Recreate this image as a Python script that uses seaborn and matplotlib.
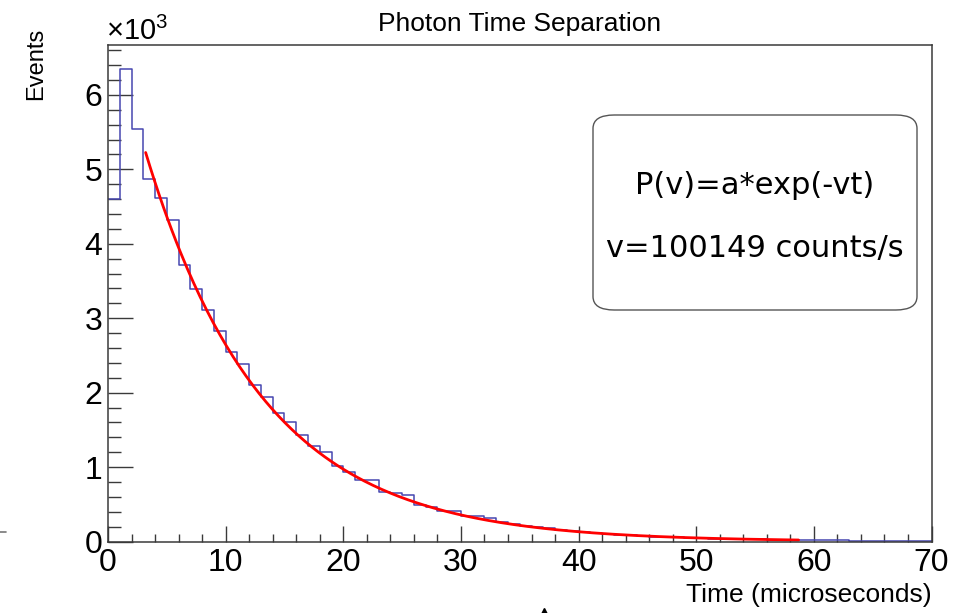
import numpy as np
import pandas as pd
import seaborn as sns
import matplotlib.pyplot as plt
from matplotlib.patches import FancyBboxPatch
from matplotlib.ticker import MultipleLocator, FuncFormatter

# histogram: 1 microsecond bins from 0 to 70, counts
bin_edges = list(range(0, 71))
counts = [4600, 6350, 5540, 4870, 4610, 4320, 3720, 3395, 3110, 2830,
          2550, 2380, 2105, 1935, 1725, 1600, 1425, 1285, 1205, 1015,
          930, 830, 825, 670, 650, 620, 490, 470, 410, 410,
          345, 345, 320, 265, 235, 210, 200, 175, 160, 140,
          130, 118, 95, 88, 87, 74, 66, 62, 55, 48,
          44, 40, 36, 33, 30, 27, 24, 20, 19, 17,
          16, 15, 14, 13, 8, 7, 6, 6, 5, 5]

# exponential fit P = a*exp(-v t), t in microseconds
fit_a = 7200
fit_v = 100149  # counts/s
fit_range = [3.2, 58.7]

box_lines = ['P(v)=a*exp(-vt)', 'v=100149 counts/s']

df = pd.DataFrame({'time': np.array(bin_edges[:-1]) + 0.5, 'events': counts})
t_fit = np.linspace(fit_range[0], fit_range[1], 300)
fit_df = pd.DataFrame({'time': t_fit, 'events': fit_a * np.exp(-fit_v * 1e-6 * t_fit)})

sns.set_style('white')
plt.rcParams['font.family'] = ['Liberation Sans', 'DejaVu Sans']
plt.rcParams['mathtext.fontset'] = 'custom'
plt.rcParams['mathtext.rm'] = 'Liberation Sans'
plt.rcParams['text.color'] = 'black'
plt.rcParams['xtick.color'] = 'black'
plt.rcParams['ytick.color'] = 'black'

W, H = 967, 613
fig = plt.figure(figsize=(W / 100, H / 100), dpi=100)
ax = fig.add_axes([108 / W, 1 - 541.5 / H, (931.5 - 108) / W, (541.5 - 45) / H])

sns.histplot(data=df, x='time', weights='events', bins=bin_edges,
             element='step', fill=False, color='#4646b0', linewidth=1.1, ax=ax)
sns.lineplot(data=fit_df, x='time', y='events', color='#ff0000', linewidth=2, ax=ax)

ax.set_xlim(0, 70)
ax.set_ylim(0, 6670)
ax.set_xlabel('')
ax.set_ylabel('')

frame_col = '#3a3a3a'
for s in ax.spines.values():
    s.set_color(frame_col)
    s.set_linewidth(1.1)

ax.xaxis.set_major_locator(MultipleLocator(10))
ax.xaxis.set_minor_locator(MultipleLocator(2))
ax.yaxis.set_major_locator(MultipleLocator(1000))
ax.yaxis.set_minor_locator(MultipleLocator(200))
ax.yaxis.set_major_formatter(FuncFormatter(lambda v, p: f'{v / 1000:.0f}'))
ax.tick_params(axis='x', which='major', direction='in', length=11.5, width=1,
               color=frame_col, labelcolor='black', labelsize=23, pad=5, bottom=True, top=False)
ax.tick_params(axis='x', which='minor', direction='in', length=5.8, width=1,
               color=frame_col, bottom=True, top=False)
ax.tick_params(axis='y', which='major', direction='in', length=18, width=1,
               color=frame_col, labelcolor='black', labelsize=23, pad=4, left=True, right=False)
ax.tick_params(axis='y', which='minor', direction='in', length=9.4, width=1,
               color=frame_col, left=True, right=False)

fig.text(519.5 / W, 1 - 24 / H, 'Photon Time Separation', ha='center', va='center',
         fontsize=19, color='black')
fig.text(931.5 / W, 1 - 607 / H, 'Time (microseconds)', ha='right', va='bottom',
         fontsize=19, color='black')
fig.text(36 / W, 1 - 28 / H, 'Events', ha='center', va='top', rotation=90,
         fontsize=17, color='black')
fig.text(106 / W, 1 - 40 / H, r'$\times10^{3}$', ha='left', va='baseline',
         fontsize=21, color='black')

# fit result box
box = FancyBboxPatch((593 / W, 1 - 310 / H), (917 - 593) / W, (310 - 115) / H,
                     boxstyle='round,pad=0,rounding_size=0.022', transform=fig.transFigure,
                     facecolor='white', edgecolor='#555555', linewidth=1)
fig.patches.append(box)
for txt, yy in zip(box_lines, [186, 249]):
    fig.text(755 / W, 1 - yy / H, txt, ha='center', va='center', fontsize=22,
             family='DejaVu Sans', color='black')

# stray marks at the edges of the screenshot
fig.add_artist(plt.Line2D([0, 6 / W], [1 - 532 / H] * 2, color='#777777', lw=1.2))
fig.add_artist(plt.Line2D([543.5 / W], [1 - 616 / H], marker='^', markersize=12,
                          color='black', linestyle='none'))

fig.savefig('out.png', dpi=100)
